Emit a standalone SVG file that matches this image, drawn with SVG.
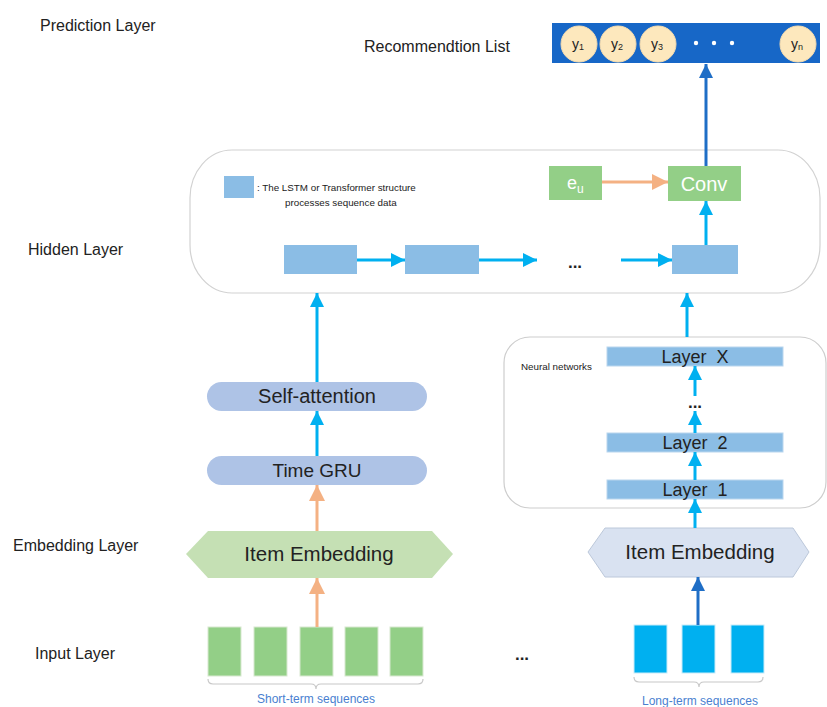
<svg xmlns="http://www.w3.org/2000/svg" width="827" height="707" viewBox="0 0 827 707">
<defs>
<style>
.lbl{font-family:"Liberation Sans",Arial,sans-serif;fill:#222;}
.layer{font-size:16px;}
.dots{font-weight:bold;}
.c{stroke:#00b0f0;stroke-width:3;fill:none;}
.o{stroke:#f4b183;stroke-width:3;fill:none;}
.d{stroke:#1f6ec6;stroke-width:3;fill:none;}
.hb{fill:#8bbde5;}
.pill{fill:#aec3e6;}
.gs{fill:#93cf87;stroke:#d8e8d0;stroke-width:1;}
.bs{fill:#00b0f0;stroke:#c8ecf9;stroke-width:1;}
.bar{fill:#8bbde5;stroke:#b9d6ee;stroke-width:1;}
.circ{fill:#fde8bd;stroke:#f6dcae;stroke-width:1;}
.brace{fill:none;stroke:#c8c8c8;stroke-width:1.2;}
</style>
<marker id="mc" viewBox="0 0 14 14" refX="14" refY="7" markerWidth="14" markerHeight="14" markerUnits="userSpaceOnUse" orient="auto"><path d="M0,0 L14,7 L0,14 z" fill="#00b0f0"/></marker>
<marker id="mo" viewBox="0 0 16 16" refX="16" refY="8" markerWidth="16" markerHeight="16" markerUnits="userSpaceOnUse" orient="auto"><path d="M0,0 L16,8 L0,16 z" fill="#f4b183"/></marker>
<marker id="md" viewBox="0 0 14 14" refX="14" refY="7" markerWidth="14" markerHeight="14" markerUnits="userSpaceOnUse" orient="auto"><path d="M0,0 L14,7 L0,14 z" fill="#1f6ec6"/></marker>
</defs>
<rect width="827" height="707" fill="#ffffff"/>

<g id="layer-labels" class="lbl layer">
<text x="40" y="31">Prediction Layer</text>
<text x="28" y="255">Hidden Layer</text>
<text x="13" y="551">Embedding Layer</text>
<text x="35" y="659">Input Layer</text>
</g>

<g id="recommendation-list">
<text class="lbl" x="364" y="52" font-size="16">Recommendtion List</text>
<rect x="552" y="23" width="268" height="40" fill="#1767c7"/>
<circle class="circ" cx="579" cy="44" r="18"/>
<circle class="circ" cx="618" cy="44" r="18"/>
<circle class="circ" cx="658" cy="44" r="18"/>
<circle class="circ" cx="798" cy="44" r="18"/>
<g class="lbl" font-size="14" fill="#333" text-anchor="middle">
<text x="578" y="49">y<tspan font-size="9" dy="1">1</tspan></text>
<text x="617" y="49">y<tspan font-size="9" dy="1">2</tspan></text>
<text x="657" y="49">y<tspan font-size="9" dy="1">3</tspan></text>
<text x="797" y="49">y<tspan font-size="9" dy="1">n</tspan></text>
</g>
<circle cx="696" cy="43" r="2.2" fill="#ffffff"/>
<circle cx="714" cy="43" r="2.2" fill="#ffffff"/>
<circle cx="732" cy="43" r="2.2" fill="#ffffff"/>
</g>

<g id="hidden-layer">
<rect x="190" y="150" width="630" height="143" rx="42" ry="48" fill="none" stroke="#d2d2d2" stroke-width="1.2"/>
<rect x="224" y="176" width="30" height="22" class="hb"/>
<text class="lbl" x="257" y="191" font-size="9.8">: The LSTM or Transformer structure</text>
<text class="lbl" x="285" y="206" font-size="9.8">processes sequence data</text>
</g>

<g id="eu">
<rect x="549" y="166" width="53" height="34" fill="#93cf87"/>
<text class="lbl" x="567" y="189" font-size="18" style="fill:#ffffff">e<tspan font-size="12" dy="4">u</tspan></text>
</g>
<g id="conv">
<rect x="668" y="166" width="73" height="35" fill="#93cf87"/>
<text class="lbl" x="704" y="191" font-size="20" text-anchor="middle" style="fill:#ffffff">Conv</text>
</g>
<g id="seq-box-1"><rect x="284" y="245" width="73" height="29" class="hb"/></g>
<g id="seq-box-2"><rect x="405" y="245" width="74" height="29" class="hb"/></g>
<text class="lbl dots" x="575" y="268" font-size="17" text-anchor="middle">...</text>
<g id="seq-box-3"><rect x="672" y="245" width="66" height="29" class="hb"/></g>

<g id="neural-networks">
<rect x="504" y="337" width="322" height="171" rx="26" fill="none" stroke="#cdcdcd" stroke-width="1.2"/>
<text class="lbl" x="521" y="370" font-size="9.8">Neural networks</text>
</g>
<g id="layer-x">
<rect x="607" y="347" width="176" height="19" class="bar"/>
<text class="lbl" x="695" y="363" font-size="18" text-anchor="middle" xml:space="preserve">Layer  X</text>
</g>
<text class="lbl dots" x="695" y="408" font-size="17" text-anchor="middle">...</text>
<g id="layer-2">
<rect x="607" y="433" width="176" height="19" class="bar"/>
<text class="lbl" x="695" y="449" font-size="18" text-anchor="middle" xml:space="preserve">Layer  2</text>
</g>
<g id="layer-1">
<rect x="607" y="480" width="176" height="19" class="bar"/>
<text class="lbl" x="695" y="496" font-size="18" text-anchor="middle" xml:space="preserve">Layer  1</text>
</g>

<g id="self-attention">
<rect x="207" y="382" width="220" height="29" rx="14.5" class="pill"/>
<text class="lbl" x="317" y="403" font-size="20" text-anchor="middle">Self-attention</text>
</g>
<g id="time-gru">
<rect x="207" y="456" width="220" height="29" rx="14.5" class="pill"/>
<text class="lbl" x="317" y="477" font-size="19" text-anchor="middle">Time GRU</text>
</g>

<g id="item-embedding-short">
<polygon points="186,554 208,531 432,531 453,554 432,578 208,578" fill="#c5e0b4"/>
<text class="lbl" x="319" y="561" font-size="20.5" text-anchor="middle">Item Embedding</text>
</g>
<g id="item-embedding-long">
<polygon points="588,552 605,528 793,528 809,552 793,577 605,577" fill="#d9e2f1" stroke="#bcc8da" stroke-width="1"/>
<text class="lbl" x="700" y="559" font-size="20.5" text-anchor="middle">Item Embedding</text>
</g>

<g id="short-term-sequences">
<rect x="208" y="627" width="33" height="49" class="gs"/>
<rect x="254" y="627" width="33" height="49" class="gs"/>
<rect x="300" y="627" width="33" height="49" class="gs"/>
<rect x="345" y="627" width="33" height="49" class="gs"/>
<rect x="390" y="627" width="33" height="49" class="gs"/>
<path class="brace" d="M208,679 Q208,684 213,684 L311,684 Q316,684 316,689 Q316,684 321,684 L418,684 Q423,684 423,679"/>
<text class="lbl" x="316" y="703" font-size="12" text-anchor="middle" style="fill:#4a7fd0">Short-term sequences</text>
</g>
<text class="lbl dots" x="522" y="660" font-size="17" text-anchor="middle">...</text>
<g id="long-term-sequences">
<rect x="634" y="625" width="33" height="48" class="bs"/>
<rect x="682" y="625" width="33" height="48" class="bs"/>
<rect x="731" y="625" width="33" height="48" class="bs"/>
<path class="brace" d="M634,677 Q634,682 639,682 L694,682 Q699,682 699,687 Q699,682 704,682 L758,682 Q763,682 763,677"/>
<text class="lbl" x="700" y="705" font-size="12" text-anchor="middle" style="fill:#4a7fd0">Long-term sequences</text>
</g>

<g id="connectors">
<line class="d" x1="706" y1="166" x2="706" y2="64" marker-end="url(#md)"/>
<line class="c" x1="706" y1="245" x2="706" y2="201" marker-end="url(#mc)"/>
<line class="o" x1="602" y1="182" x2="668" y2="182" marker-end="url(#mo)"/>
<line class="c" x1="357" y1="260" x2="405" y2="260" marker-end="url(#mc)"/>
<line class="c" x1="479" y1="260" x2="537" y2="260" marker-end="url(#mc)"/>
<line class="c" x1="621" y1="260" x2="672" y2="260" marker-end="url(#mc)"/>
<line class="c" x1="317" y1="382" x2="317" y2="293" marker-end="url(#mc)"/>
<line class="c" x1="687" y1="337" x2="687" y2="293" marker-end="url(#mc)"/>
<line class="c" x1="317" y1="456" x2="317" y2="411" marker-end="url(#mc)"/>
<line class="o" x1="317" y1="531" x2="317" y2="485" marker-end="url(#mo)"/>
<line class="o" x1="317" y1="627" x2="317" y2="578" marker-end="url(#mo)"/>
<line class="d" x1="698" y1="625" x2="698" y2="577" marker-end="url(#md)"/>
<line class="c" x1="695" y1="528" x2="695" y2="499" marker-end="url(#mc)"/>
<line class="c" x1="695" y1="480" x2="695" y2="452" marker-end="url(#mc)"/>
<line class="c" x1="695" y1="433" x2="695" y2="411" marker-end="url(#mc)"/>
<line class="c" x1="695" y1="396" x2="695" y2="366" marker-end="url(#mc)"/>
</g>
</svg>
